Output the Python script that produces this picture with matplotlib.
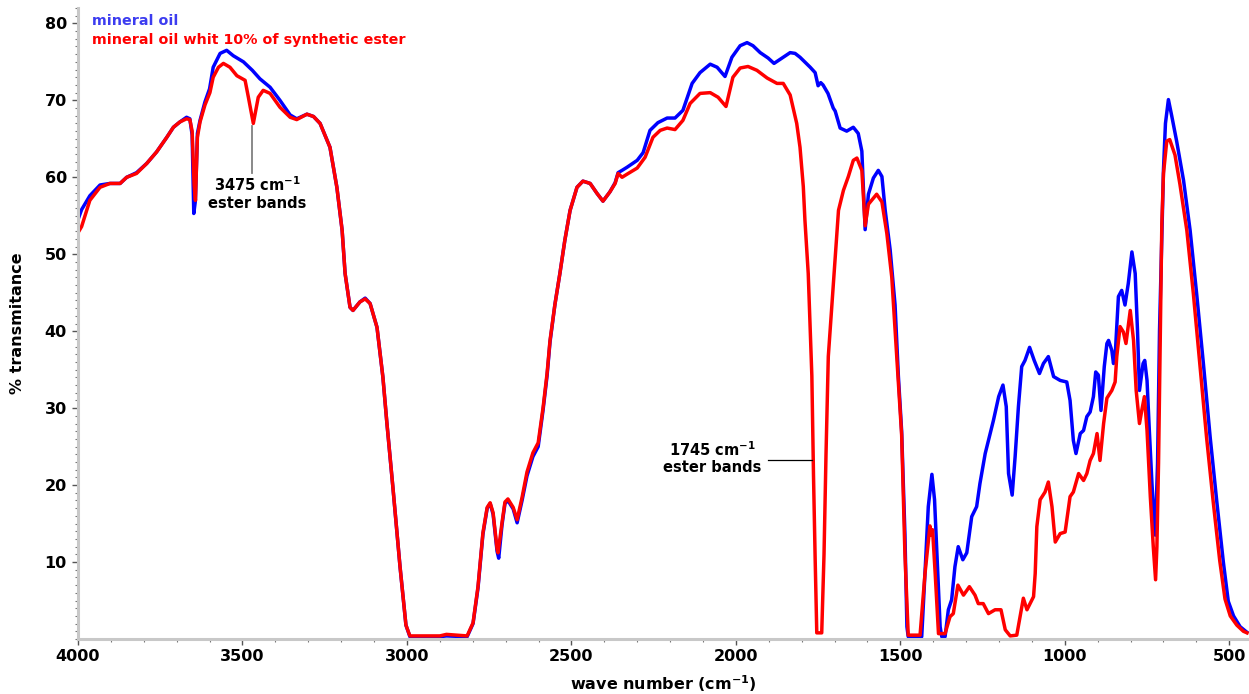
import matplotlib
matplotlib.use("Agg")
import matplotlib.pyplot as plt
from matplotlib.ticker import MultipleLocator, FixedLocator

# ---------------- data ----------------
mineral_wn = [4000, 3989, 3964, 3933, 3903, 3872, 3852, 3822, 3791, 3761, 3730, 3710, 3690, 3670,
              3660, 3653, 3648, 3643, 3637, 3629, 3614, 3600, 3589, 3568, 3548, 3528, 3497, 3470,
              3447, 3416, 3386, 3355, 3335, 3304, 3284, 3264, 3234, 3213, 3197, 3188, 3173, 3164,
              3143, 3127, 3112, 3091, 3073, 3061, 3042, 3021, 3003, 2991, 2900, 2880, 2817, 2799,
              2784, 2769, 2756, 2747, 2738, 2726, 2721, 2711, 2702, 2693, 2677, 2665, 2650, 2635,
              2617, 2601, 2586, 2574, 2565, 2550, 2535, 2520, 2504, 2483, 2465, 2443, 2422, 2404,
              2383, 2367, 2358, 2346, 2331, 2300, 2282, 2261, 2237, 2209, 2185, 2161, 2133, 2109,
              2078, 2057, 2033, 2012, 1987, 1966, 1948, 1926, 1902, 1884, 1856, 1835, 1820, 1805,
              1774, 1759, 1750, 1742, 1735, 1720, 1704, 1698, 1683, 1663, 1643, 1628, 1617, 1612,
              1607, 1597, 1582, 1567, 1556, 1546, 1531, 1516, 1506, 1496, 1486, 1480, 1476, 1435,
              1425, 1415, 1404, 1396, 1389, 1379, 1374, 1364, 1354, 1344, 1334, 1324, 1310, 1298,
              1283, 1268, 1258, 1242, 1227, 1217, 1201, 1188, 1178, 1171, 1160, 1151, 1141, 1131,
              1121, 1107, 1093, 1077, 1065, 1050, 1034, 1014, 994, 984, 974, 966, 953, 943, 933,
              923, 913, 906, 898, 890, 880, 872, 867, 857, 852, 847, 837, 827, 817, 807, 796, 786,
              779, 773, 762, 757, 750, 743, 735, 728, 725, 718, 712, 705, 700, 694, 685, 675, 660,
              639, 619, 599, 578, 558, 538, 518, 503, 487, 467, 447]
mineral_T = [54.5, 55.8, 57.6, 59.0, 59.2, 59.2, 60.0, 60.6, 61.8, 63.3, 65.2, 66.5, 67.2, 67.8,
             67.6, 65.5, 55.3, 57.0, 65.7, 67.4, 69.8, 71.5, 74.3, 76.1, 76.5, 75.8, 75.0, 73.9,
             72.8, 71.7, 70.0, 68.1, 67.6, 68.2, 67.9, 67.0, 63.9, 58.7, 53.1, 47.5, 43.1, 42.7,
             43.8, 44.3, 43.6, 40.5, 34.0, 28.1, 19.4, 9.4, 1.8, 0.3, 0.3, 0.4, 0.3, 2.0,
             6.6, 13.6, 17.0, 17.6, 16.2, 11.4, 10.5, 14.8, 17.6, 18.0, 16.9, 15.1, 18.0, 21.2,
             23.7, 25.0, 29.8, 34.2, 38.6, 43.5, 47.5, 51.8, 55.7, 58.7, 59.5, 59.2, 57.9, 56.9,
             58.1, 59.3, 60.6, 60.9, 61.3, 62.2, 63.2, 66.1, 67.1, 67.7, 67.7, 68.7, 72.2, 73.6,
             74.7, 74.3, 73.1, 75.6, 77.1, 77.5, 77.1, 76.2, 75.5, 74.8, 75.6, 76.2, 76.1, 75.6,
             74.3, 73.6, 71.9, 72.3, 72.0, 70.9, 69.0, 68.6, 66.4, 66.0, 66.5, 65.7, 63.4, 58.3,
             53.2, 57.8, 59.9, 60.9, 60.1, 55.7, 50.6, 43.4, 34.2, 27.0, 13.6, 1.6, 0.3, 0.3,
             8.6, 17.2, 21.4, 18.1, 11.2, 1.6, 0.3, 0.3, 3.8, 5.1, 9.4, 12.0, 10.3, 11.2,
             15.9, 17.2, 20.2, 24.1, 26.7, 28.4, 31.5, 33.0, 30.2, 21.5, 18.7, 23.7, 30.2, 35.4,
             36.2, 37.9, 36.2, 34.5, 35.8, 36.7, 34.1, 33.6, 33.4, 31.0, 25.8, 24.1, 26.7, 27.1, 28.9,
             29.5, 31.5, 34.7, 34.3, 29.7, 35.4, 38.4, 38.8, 37.5, 35.8, 36.7, 44.5, 45.3, 43.4, 46.2, 50.3, 47.5,
             40.1, 32.3, 35.8, 36.2, 33.6, 27.1, 20.2, 15.0, 13.5, 22.8, 40.1, 52.0, 61.0, 67.0, 70.1, 68.0, 64.7,
             59.6, 53.1, 44.8, 35.5, 26.2, 17.9, 10.0, 4.9, 3.0, 1.6, 0.9]

ester_wn = [4000, 3989, 3964, 3933, 3903, 3872, 3852, 3822, 3791, 3761, 3730, 3710, 3690, 3670,
            3660, 3653, 3647, 3643, 3637, 3629, 3614, 3599, 3589, 3573, 3558, 3538, 3517, 3492,
            3482, 3467, 3452, 3437, 3416, 3386, 3355, 3335, 3304, 3284, 3264, 3234, 3213, 3197,
            3188, 3173, 3164, 3143, 3127, 3112, 3091, 3073, 3061, 3042, 3021, 3003, 2991, 2900,
            2880, 2817, 2799, 2784, 2769, 2756, 2747, 2738, 2726, 2723, 2711, 2702, 2693, 2677,
            2665, 2650, 2635, 2617, 2601, 2586, 2574, 2565, 2550, 2535, 2520, 2504, 2483, 2465,
            2443, 2422, 2404, 2383, 2367, 2358, 2346, 2331, 2300, 2276, 2252, 2230, 2209, 2185,
            2161, 2139, 2109, 2078, 2054, 2030, 2009, 1987, 1963, 1936, 1905, 1875, 1856, 1835,
            1815, 1805, 1795, 1790, 1780, 1769, 1764, 1759, 1754, 1739, 1732, 1726, 1719, 1708,
            1698, 1688, 1673, 1658, 1643, 1632, 1617, 1607, 1597, 1572, 1556, 1541, 1526, 1511,
            1496, 1486, 1476, 1440, 1425, 1410, 1406, 1402, 1394, 1384, 1364, 1349, 1339, 1325,
            1308, 1290, 1273, 1263, 1248, 1232, 1212, 1194, 1181, 1166, 1146, 1136, 1126, 1115,
            1095, 1090, 1085, 1075, 1060, 1050, 1039, 1029, 1014, 999, 984, 974, 958, 943, 933,
            923, 913, 902, 893, 882, 872, 857, 847, 842, 832, 822, 814, 801, 791, 783, 773, 766,
            758, 750, 740, 731, 724, 720, 715, 710, 705, 700, 690, 681, 665, 650, 629, 609, 589,
            569, 549, 529, 513, 497, 477, 457, 446]
ester_T = [52.8, 53.6, 57.0, 58.7, 59.2, 59.2, 60.0, 60.5, 61.8, 63.3, 65.2, 66.5, 67.2, 67.6,
           67.5, 66.0, 59.0, 57.0, 65.2, 67.2, 69.4, 71.0, 73.0, 74.3, 74.8, 74.3, 73.2, 72.6,
           70.4, 67.0, 70.4, 71.3, 70.9, 69.1, 67.8, 67.5, 68.2, 67.9, 67.0, 63.9, 58.7, 53.1,
           47.5, 43.1, 42.7, 43.8, 44.2, 43.6, 40.5, 34.0, 28.1, 19.4, 9.4, 1.8, 0.4, 0.4,
           0.6, 0.4, 2.1, 6.8, 13.8, 17.1, 17.7, 16.4, 11.7, 11.2, 15.1, 17.8, 18.2, 17.1,
           15.5, 18.4, 21.7, 24.2, 25.5, 30.1, 34.5, 38.8, 43.5, 47.5, 51.8, 55.7, 58.7, 59.5,
           59.2, 57.9, 56.9, 58.1, 59.2, 60.5, 60.0, 60.4, 61.2, 62.6, 65.2, 66.1, 66.4, 66.2,
           67.4, 69.6, 70.9, 71.0, 70.4, 69.2, 73.0, 74.2, 74.4, 73.9, 72.9, 72.2, 72.2, 70.7,
           67.0, 63.9, 58.8, 54.4, 47.5, 34.2, 21.3, 10.5, 0.8, 0.8, 11.0, 23.9, 36.7, 43.4,
           49.6, 55.7, 58.3, 60.1, 62.2, 62.5, 60.9, 53.7, 56.5, 57.8, 56.8, 52.7, 47.0, 36.7,
           26.5, 11.0, 0.5, 0.5, 8.5, 14.7, 13.5, 14.2, 8.5, 0.7, 0.7, 2.9, 3.3, 7.0,
           5.7, 6.8, 5.7, 4.6, 4.6, 3.3, 3.8, 3.8, 1.2, 0.4, 0.5, 2.9, 5.3, 3.8,
           5.5, 8.5, 14.6, 18.1, 19.1, 20.4, 17.2, 12.6, 13.7, 13.9, 18.5, 19.1, 21.5, 20.6, 21.5,
           23.2, 24.1, 26.7, 23.2, 28.0, 31.3, 32.3, 33.4, 36.7, 40.6, 39.9, 38.4, 42.7, 38.8, 32.3, 28.0, 29.7,
           31.5, 27.1, 18.5, 12.0, 7.7, 12.0, 22.9, 38.0, 54.0, 60.5, 64.7, 64.9, 62.9, 59.1, 53.1, 44.8, 35.5,
           26.2, 17.9, 10.2, 5.2, 3.0, 1.8, 1.0, 0.8]

series_labels = ["mineral oil", "mineral oil whit 10% of synthetic ester"]
x_ticks = [4000, 3500, 3000, 2500, 2000, 1500, 1000, 500]
y_ticks = [10, 20, 30, 40, 50, 60, 70, 80]

# ---------------- figure ----------------
plt.rcParams['font.family'] = ['DejaVu Sans']
plt.rcParams['mathtext.default'] = 'bf'

W, H = 1249, 694
fig = plt.figure(figsize=(W / 100, H / 100), dpi=100)
ax = fig.add_axes([78 / W, (H - 639) / H, (W - 78) / W, (639 - 8) / H])

blue = '#0000ff'
red = '#ff0000'
ax.plot(mineral_wn, mineral_T, color=blue, lw=2.5, solid_joinstyle='round')
ax.plot(ester_wn, ester_T, color=red, lw=2.5, solid_joinstyle='round')

ax.set_xlim(4000, 440)
ax.set_ylim(0, 82)

for s in ['top', 'right']:
    ax.spines[s].set_visible(False)
for s in ['left', 'bottom']:
    ax.spines[s].set_color('#c8c8c8')
    ax.spines[s].set_linewidth(2.2)

ax.xaxis.set_major_locator(FixedLocator(x_ticks))
ax.xaxis.set_minor_locator(MultipleLocator(100))
ax.yaxis.set_major_locator(FixedLocator(y_ticks))
ax.yaxis.set_minor_locator(MultipleLocator(1))
ax.tick_params(which='major', direction='out', length=4, width=1, color='#555555',
               labelsize=11.5, pad=3)
ax.tick_params(which='minor', direction='out', length=2.5, width=0.8, color='#777777')
ax.tick_params(axis='y', which='major', pad=4)
for lab in ax.get_xticklabels() + ax.get_yticklabels():
    lab.set_fontweight('bold')

ax.set_xlabel('wave number (cm$^{-1}$)', fontsize=11.5, fontweight='bold', labelpad=7)
ax.set_ylabel('% transmitance', fontsize=11.5, fontweight='bold', labelpad=14)

# legend-like text
ax.text(0.012, 0.99, series_labels[0], transform=ax.transAxes, color='#3c3cf0',
        fontsize=10.3, fontweight='bold', va='top', ha='left')
ax.text(0.012, 0.961, series_labels[1], transform=ax.transAxes, color=red,
        fontsize=10.3, fontweight='bold', va='top', ha='left')

# annotations
ax.plot([3471, 3471], [60.6, 66.7], color='#808080', lw=1.3)
ax.text(3455, 60.2, '3475 cm$^{-1}$\nester bands', ha='center', va='top',
        fontsize=10.5, fontweight='bold', linespacing=1.1)
ax.plot([1902, 1768], [23.3, 23.3], color='black', lw=0.9)
ax.text(2072, 23.6, '1745 cm$^{-1}$\nester bands', ha='center', va='center',
        fontsize=10.5, fontweight='bold', linespacing=1.1)

fig.savefig('out.png', dpi=100)
